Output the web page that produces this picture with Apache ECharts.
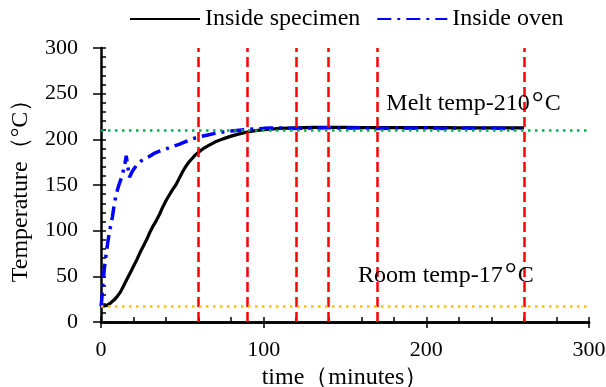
<!DOCTYPE html>
<html>
<head>
<meta charset="utf-8">
<script src="https://cdn.jsdelivr.net/npm/echarts@6/dist/echarts.min.js"></script>
<style>html,body{margin:0;padding:0;background:#fff}#c{width:606px;height:387px}</style>
</head>
<body>
<div id="c"></div>
<script>
// Time (minutes) and temperature (°C)
var specimenT = [0,2,4,6,8,10,12,14,16,18,20,22,24,26,28,30,32,34,36,38,40,42,44,46,48,50,52,54,56,58,60,63,66,70,75,80,85,90,95,100,110,120,130,140,150,160,170,180,190,200,210,220,230,240,250,260];
var specimenV = [17,17.5,18.5,21,24,28,33,40,47,54,61,68,76,83,90,98,105,111,118,126,133,139,145,150,157,164,170,175,179,183,186,190,193,197,200.5,203.5,206,208,209.5,210.5,212,212.5,213,213,213,212.8,212.8,212.8,212.8,212.8,212.8,212.6,212.6,212.5,212.5,212.5];

var ovenT = [0,0.5,1,1.5,2,3,4,5,6,7,8,9,10,11,12,13,14,15,15.5,16.5,17.5,19,20,22,24,26,28,30,33,36,40,44,48,52,56,60,65,70,75,80,85,90,95,100,110,120,130,140,150,160,170,180,190,200,210,220,230,240,250,258];
var ovenV = [17,25,38,48,58,72,85,97,106,115,127,137,144,150,155,160,168,176,182,170,158.5,164,167,172,175.5,178,180,181.5,185,187,189.5,192,194.5,197.5,200.5,202.5,204.5,206.5,208,209,210,211,211.5,212,212.5,211.8,212.4,212.8,212,212.6,211.8,212.4,212.2,212.8,211.9,212.4,212,212.5,211.8,212];

var redLinesX = [60, 90, 120, 140, 170, 260];
var meltTemp = 210;
var roomTemp = 17;

var FONT = 'Liberation Serif';
var chart = echarts.init(document.getElementById('c'), null, {renderer: 'canvas'});

var markData = redLinesX.map(function (x) {
  return {xAxis: x, lineStyle: {color: '#ff0000', type: [10, 5], width: 2.5}};
});
markData.push({yAxis: meltTemp, lineStyle: {color: '#00b050', type: [2.5, 4.5], width: 2.5}});
markData.push({yAxis: roomTemp, lineStyle: {color: '#ffc000', type: [2.5, 4.5], width: 2.5}});

var richText = {
  t: {fontFamily: FONT, fontSize: 24, color: '#000'},
  d: {fontFamily: FONT, fontSize: 30, color: '#000', padding: [0, 1, 0, 2]}
};

chart.setOption({
  animation: false,
  textStyle: {fontFamily: FONT},
  legend: {
    top: 2, left: 124,
    itemWidth: 70, itemHeight: 12, itemGap: 16,
    itemStyle: {opacity: 0},
    textStyle: {fontFamily: FONT, fontSize: 24, color: '#000'},
    data: ['Inside specimen', 'Inside oven']
  },
  grid: {left: 101, right: 17, top: 48, bottom: 65, containLabel: false, outerBoundsMode: 'none'},
  xAxis: [
    {
      type: 'value', min: 0, max: 300, interval: 100, position: 'bottom',
      name: 'time（minutes）', nameLocation: 'middle', nameGap: 27,
      nameTextStyle: {fontFamily: FONT, fontSize: 24, color: '#000'},
      axisLine: {lineStyle: {color: '#000', width: 2.5}},
      axisTick: {inside: false, length: 6, lineStyle: {color: '#000', width: 1.5}},
      axisLabel: {fontFamily: FONT, fontSize: 22, color: '#000', margin: 17},
      splitLine: {show: false}
    },
    {
      type: 'value', min: 0, max: 300, interval: 20, position: 'bottom',
      axisLine: {show: false},
      axisTick: {inside: true, length: 5, lineStyle: {color: '#000', width: 1.5}},
      axisLabel: {show: false}, splitLine: {show: false}
    },
    {
      type: 'value', min: 0, max: 300, position: 'top',
      axisLine: {lineStyle: {color: '#000', width: 2.5}},
      axisTick: {show: false}, axisLabel: {show: false}, splitLine: {show: false}
    }
  ],
  yAxis: [
    {
      type: 'value', min: 0, max: 300, interval: 50, position: 'left',
      name: 'Temperature（°C）', nameLocation: 'middle', nameGap: 68, nameRotate: 90,
      nameTextStyle: {fontFamily: FONT, fontSize: 24, color: '#000'},
      axisLine: {lineStyle: {color: '#000', width: 2.5}},
      axisTick: {inside: false, length: 8, lineStyle: {color: '#000', width: 1.5}},
      axisLabel: {fontFamily: FONT, fontSize: 22, color: '#000', margin: 23},
      splitLine: {show: false}
    },
    {
      type: 'value', min: 0, max: 300, interval: 10, position: 'left',
      axisLine: {show: false},
      axisTick: {inside: true, length: 5, lineStyle: {color: '#000', width: 1.5}},
      axisLabel: {show: false}, splitLine: {show: false}
    },
    {
      type: 'value', min: 0, max: 300, position: 'right',
      axisLine: {lineStyle: {color: '#000', width: 1}},
      axisTick: {show: false}, axisLabel: {show: false}, splitLine: {show: false}
    }
  ],
  series: [
    {
      name: 'Inside specimen', type: 'line', showSymbol: false, symbol: 'none',
      xAxisIndex: 0, yAxisIndex: 0,
      data: specimenT.map(function (x, i) { return [x, specimenV[i]]; }),
      lineStyle: {color: '#000', width: 3.2},
      itemStyle: {color: '#000'},
      z: 3,
      markLine: {
        silent: true, symbol: ['none', 'none'], label: {show: false},
        data: markData
      },
      markPoint: {
        silent: true, symbol: 'circle', symbolSize: 0,
        label: {show: true, position: 'inside', rich: richText},
        data: [
          {coord: [229, 239], label: {formatter: '{t|Melt temp-210}{d|°}{t|C}'}},
          {coord: [212, 51], label: {formatter: '{t|Room temp-17}{d|°}{t|C}'}}
        ]
      }
    },
    {
      name: 'Inside oven', type: 'line', showSymbol: false, symbol: 'none',
      xAxisIndex: 0, yAxisIndex: 0,
      data: ovenT.map(function (x, i) { return [x, ovenV[i]]; }),
      lineStyle: {color: '#0000ff', width: 3.5, type: [14, 6, 3, 6]},
      itemStyle: {color: '#0000ff'},
      z: 4
    }
  ]
});
</script>
</body>
</html>
